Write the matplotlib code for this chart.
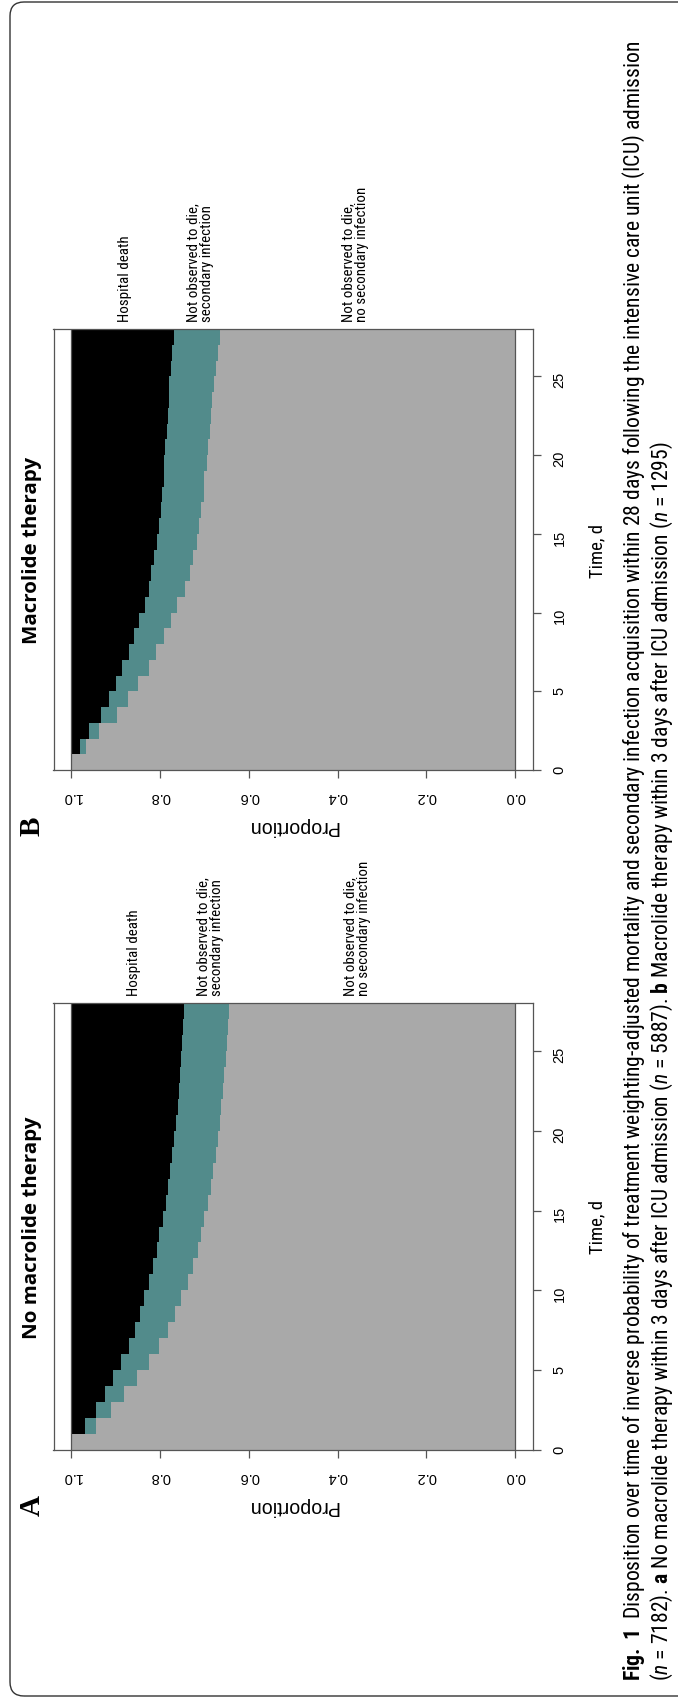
import matplotlib
matplotlib.use('Agg')
import matplotlib.pyplot as plt
import numpy as np
from matplotlib import font_manager
from matplotlib.patches import FancyBboxPatch
from matplotlib.transforms import IdentityTransform

# data (proportions at the start of each day)
days = list(range(28))
death_a = [0.000, 0.030, 0.055, 0.075, 0.095, 0.113, 0.129, 0.143, 0.154, 0.164,
           0.175, 0.184, 0.192, 0.197, 0.206, 0.213, 0.219, 0.223, 0.228, 0.232,
           0.236, 0.240, 0.243, 0.246, 0.248, 0.249, 0.251, 0.253]
death_inf_a = [0.000, 0.055, 0.089, 0.119, 0.147, 0.174, 0.198, 0.217, 0.233, 0.248,
               0.262, 0.275, 0.285, 0.293, 0.300, 0.308, 0.314, 0.320, 0.325, 0.330,
               0.334, 0.338, 0.342, 0.345, 0.348, 0.350, 0.353, 0.355]
death_b = [0.000, 0.020, 0.039, 0.066, 0.085, 0.100, 0.114, 0.130, 0.141, 0.153,
           0.166, 0.176, 0.180, 0.187, 0.192, 0.198, 0.202, 0.205, 0.208, 0.210,
           0.212, 0.215, 0.218, 0.220, 0.221, 0.224, 0.227, 0.231]
death_inf_b = [0.000, 0.034, 0.063, 0.102, 0.127, 0.151, 0.176, 0.190, 0.208, 0.224,
               0.239, 0.256, 0.268, 0.275, 0.283, 0.288, 0.293, 0.298, 0.300, 0.305,
               0.309, 0.312, 0.315, 0.317, 0.322, 0.327, 0.330, 0.334]

prop_ticks = [0.0, 0.2, 0.4, 0.6, 0.8, 1.0]
prop_labels = ['0.0', '0.2', '0.4', '0.6', '0.8', '1.0']
time_ticks = [0, 5, 10, 15, 20, 25]
titles = ['No macrolide therapy', 'Macrolide therapy']
state_labels = ['Hospital death', 'Not observed to die,\nsecondary infection',
                'Not observed to die,\nno secondary infection']

caption1 = (r"$\mathbf{Fig.\ 1}$  Disposition over time of inverse probability of treatment "
            r"weighting-adjusted mortality and secondary infection acquisition within 28 days "
            r"following the intensive care unit (ICU) admission")
caption2 = (r"($\mathit{n}$ = 7182). $\mathbf{a}$ No macrolide therapy within 3 days after ICU "
            r"admission ($\mathit{n}$ = 5887). $\mathbf{b}$ Macrolide therapy within 3 days "
            r"after ICU admission ($\mathit{n}$ = 1295)")

names = {f.name for f in font_manager.fontManager.ttflist}
narrow = next((n for n in ['Liberation Sans Narrow', 'Roboto Condensed', 'Open Sans Condensed']
               if n in names), 'Liberation Sans')
plt.rcParams['font.family'] = ['Liberation Sans', 'DejaVu Sans']
plt.rcParams['mathtext.fontset'] = 'custom'
plt.rcParams['mathtext.rm'] = narrow
plt.rcParams['mathtext.it'] = narrow + ':italic'
plt.rcParams['mathtext.bf'] = narrow + ':bold'

W, H = 678, 1699
fig = plt.figure(figsize=(W / 100, H / 100), dpi=100)


def fx(x):
    return x / W


def fy(y):
    return 1 - y / H


gray = '#A9A9A9'
teal = '#528B8B'
edge = '#555555'

# panel boxes in pixels: (top, bottom), label x positions
panels = [(1004, 1451, death_a, death_inf_a, 'A', (134, 210, 357)),
          (330, 771, death_b, death_inf_b, 'B', (125, 200, 355))]

# (text to measure, target length in px, 'h' or 'w', texts that copy its size)
fits = []
for i, (top, bot, d, di, letter, lab_x) in enumerate(panels):
    ax = fig.add_axes([fx(53.5), fy(bot), (533 - 53.5) / W, (bot - top) / H])
    t = days + [28]
    dd = 1 - np.array(d + [d[-1]])
    ddi = 1 - np.array(di + [di[-1]])
    ax.fill_betweenx([0, 28], 0, 1, color=gray, lw=0)
    ax.fill_betweenx(t, ddi, dd, step='post', color=teal, lw=0)
    ax.fill_betweenx(t, dd, 1, step='post', color='black', lw=0)
    ax.axvline(0, color=edge, lw=0.9)
    ax.axvline(1, color=edge, lw=0.9)
    ax.set_xlim(1.04, -0.04)
    ax.set_ylim(0, 28)
    ax.set_xticks(prop_ticks)
    ax.set_xticklabels(prop_labels)
    ax.set_yticks(time_ticks)
    ax.yaxis.tick_right()
    ax.tick_params(axis='x', labelrotation=180, length=6, width=0.9, color=edge, pad=8, labelsize=10.5)
    ax.tick_params(axis='y', labelrotation=90, length=6, width=0.9, color=edge, pad=8, labelsize=10.5)
    for s in ax.spines.values():
        s.set_color(edge)
        s.set_linewidth(0.9)

    mid = (top + bot) / 2
    tt = fig.text(fx(32), fy(mid), titles[i], rotation=90, ha='center', va='center',
                  fontweight='bold', family=['Open Sans', 'DejaVu Sans'], fontsize=13)
    fig.text(fx(32), fy(bot + 55), letter, rotation=90, ha='center', va='center',
             family=['Liberation Serif', 'DejaVu Serif'], fontsize=21, fontweight='bold')
    pt = fig.text(fx(293), fy(bot + 56), 'Proportion', rotation=180, ha='center', va='center',
                  fontsize=12.5)
    td = fig.text(fx(597), fy(mid), 'Time, d', rotation=90, ha='center', va='center',
                  family=[narrow, 'DejaVu Sans'], fontsize=13)
    labs = []
    for j, lab in enumerate(state_labels):
        labs.append(fig.text(fx(lab_x[j]), fy(top - 8), lab, rotation=90, ha='center',
                             va='bottom', multialignment='left', family=[narrow, 'DejaVu Sans'],
                             fontsize=10, linespacing=1.0))
    if i == 0:
        fits += [(tt, 222, 'h', []), (pt, 91, 'w', []), (td, 54, 'h', []),
                 (labs[0], 87, 'h', labs[1:])]
    else:
        fits[0][3].append(tt)
        fits[1][3].append(pt)
        fits[2][3].append(td)
        fits[3][3].extend(labs)

c1 = fig.text(fx(634), fy(1681), caption1, rotation=90, ha='center', va='bottom',
              family=[narrow, 'DejaVu Sans'], fontsize=12)
c2 = fig.text(fx(662), fy(1681), caption2, rotation=90, ha='center', va='bottom',
              family=[narrow, 'DejaVu Sans'], fontsize=12)
fits.append((c1, 1635, 'h', [c2]))

# size texts to the lengths measured on the reference
for _ in range(3):
    fig.canvas.draw()
    r = fig.canvas.get_renderer()
    for txt, target, along, others in fits:
        bb = txt.get_window_extent(renderer=r)
        cur = bb.height if along == 'h' else bb.width
        size = txt.get_fontsize() * target / cur
        txt.set_fontsize(size)
        for o in others:
            o.set_fontsize(size)

frame = FancyBboxPatch((10, 2), 720, 1694, boxstyle='round,pad=0,rounding_size=14',
                       transform=IdentityTransform(), fill=False, ec='#333333', lw=1.0)
fig.patches.append(frame)

fig.savefig('out.png', dpi=100)
